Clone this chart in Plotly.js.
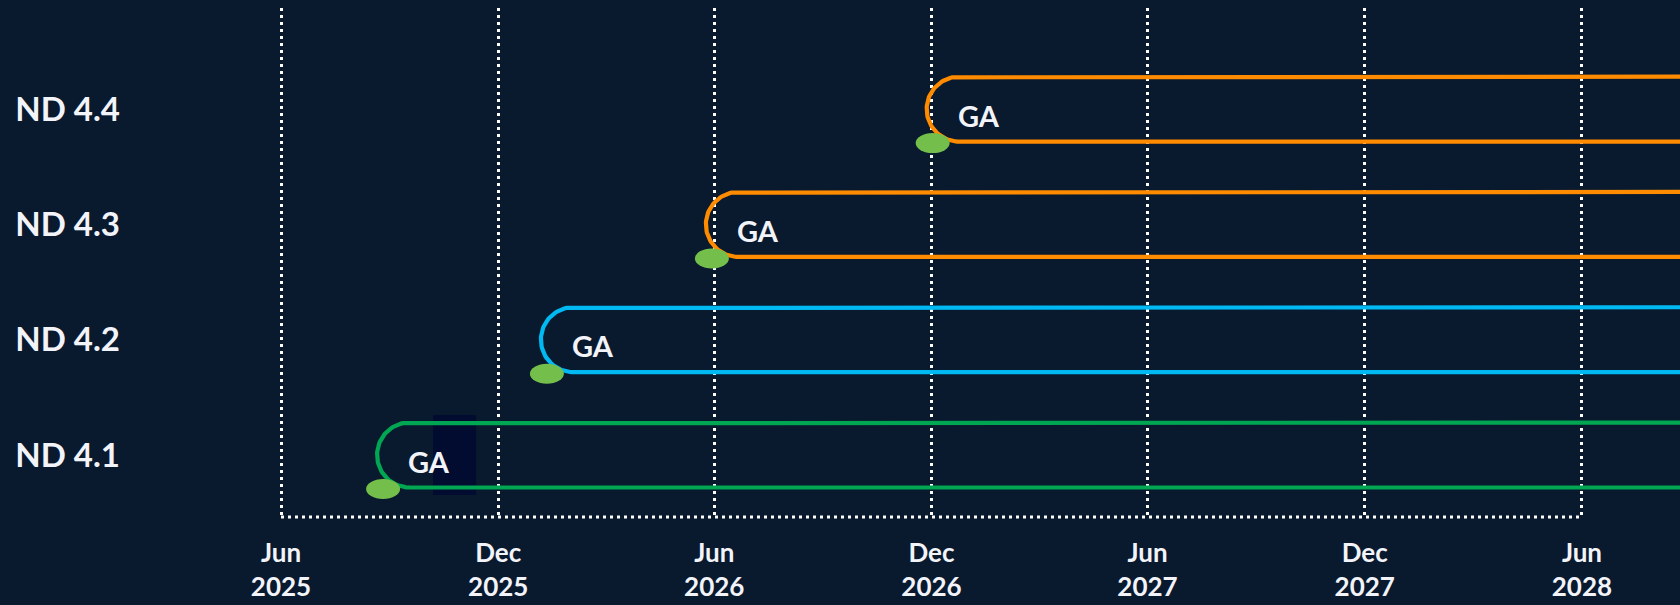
<!DOCTYPE html>
<html>
<head>
<meta charset="utf-8">
<script src="https://cdn.plot.ly/plotly-3.0.1.min.js"></script>
<style>
  html, body { margin: 0; padding: 0; background: #09192e; }
  #chart { width: 1680px; height: 605px; }
</style>
</head>
<body>
<div id="chart"></div>
<script>
// ---- data ----
const categories = ['ND 4.1', 'ND 4.2', 'ND 4.3', 'ND 4.4'];
const gaDates = ['2025-08-26', '2026-01-11', '2026-05-30', '2026-12-02'];
const gaLabels = ['GA', 'GA', 'GA', 'GA'];
const tickDates = ['2025-06-01', '2025-12-01', '2026-06-01', '2026-12-01', '2027-06-01', '2027-12-01', '2028-06-01'];
const tickLabels = ['Jun<br>2025', 'Dec<br>2025', 'Jun<br>2026', 'Dec<br>2026', 'Jun<br>2027', 'Dec<br>2027', 'Jun<br>2028'];

// ---- style ----
const lineColors = ['#00a651', '#00b9f2', '#ff8c00', '#ff8c00'];
const bg = '#09192e';
const textColor = '#f2f4fa';
const font = 'Lato, "Open Sans", sans-serif';

// ---- layout geometry ----
const W = 1680, Hgt = 605;
const M = { l: 130, r: 0, t: 8, b: 86 };
const plotW = W - M.l - M.r, plotH = Hgt - M.t - M.b;
const DAY = 86400000;
const origin = Date.UTC(2025, 5, 1);
const pxPerDay = 1.187, originPx = 281;
const xStart = origin - (originPx - M.l) / pxPerDay * DAY;
const xEnd = origin + (W - M.r - originPx) / pxPerDay * DAY;
const yRange = [-0.555, 3.877];
const pxPerMs = plotW / (xEnd - xStart);
const pxPerY = plotH / (yRange[1] - yRange[0]);
const iso = ms => new Date(ms).toISOString().replace('T', ' ').replace('Z', '');

const pillHalf = 32.5;     // px
const capOffset = 26.5;    // px from GA date to centre of rounded cap

const traces = [];
categories.forEach((cat, i) => {
  const g = Date.parse(gaDates[i] + 'T00:00:00Z');
  const cx = g + capOffset / pxPerMs;
  const far = xEnd + 60 * DAY;
  const ry = pillHalf / pxPerY;
  const xs = [iso(far)], ys = [i + ry];
  for (let a = 90; a <= 270; a += 3) {
    const rad = a * Math.PI / 180;
    xs.push(iso(cx + pillHalf * Math.cos(rad) / pxPerMs));
    ys.push(i + ry * Math.sin(rad));
  }
  xs.push(iso(far)); ys.push(i - ry);
  traces.push({
    type: 'scatter', mode: 'lines', x: xs, y: ys,
    line: { color: lineColors[i], width: 4.2 },
    hoverinfo: 'skip', showlegend: false
  });
});

const shapes = [];
// dark patch behind first GA label
shapes.push({
  type: 'rect', layer: 'between', xref: 'x', yref: 'y',
  xsizemode: 'pixel', ysizemode: 'pixel', xanchor: gaDates[0], yanchor: 0,
  x0: 50, x1: 93, y0: -40, y1: 40,
  fillcolor: '#010c30', line: { width: 0 }
});
// bottom dotted baseline
shapes.push({
  type: 'line', layer: 'above', xref: 'x', yref: 'paper',
  x0: tickDates[0], x1: tickDates[tickDates.length - 1], y0: 0.004, y1: 0.004,
  line: { color: '#ffffff', width: 3, dash: '3px,4px' }
});
// GA milestone ellipses
gaDates.forEach((d, i) => {
  shapes.push({
    type: 'circle', layer: 'above', xref: 'x', yref: 'y',
    xsizemode: 'pixel', ysizemode: 'pixel', xanchor: d, yanchor: i,
    x0: -17, x1: 17, y0: -44, y1: -24,
    fillcolor: '#74bf4b', line: { width: 0 }
  });
});

const annotations = gaDates.map((d, i) => ({
  x: d, y: i, xref: 'x', yref: 'y', text: gaLabels[i], showarrow: false,
  xanchor: 'center', yanchor: 'middle', xshift: 46, yshift: -6,
  font: { family: font, size: 29, color: textColor, weight: 700 }
}));

const layout = {
  width: W, height: Hgt,
  margin: M,
  paper_bgcolor: bg, plot_bgcolor: bg,
  showlegend: false,
  xaxis: {
    type: 'date', range: [iso(xStart), iso(xEnd)],
    tickmode: 'array', tickvals: tickDates, ticktext: tickLabels,
    showgrid: true, gridcolor: '#ffffff', gridwidth: 3, griddash: '3px,4px',
    zeroline: false, showline: false, ticks: '', ticklabelstandoff: 16,
    tickfont: { family: font, size: 26, color: textColor, weight: 700 },
    fixedrange: true
  },
  yaxis: {
    type: 'linear', range: yRange,
    tickmode: 'array', tickvals: categories.map((c, i) => i), ticktext: categories,
    showgrid: false, zeroline: false, showline: false, ticks: '', ticklabelstandoff: 9,
    tickfont: { family: font, size: 33, color: textColor, weight: 700 },
    fixedrange: true
  },
  shapes: shapes,
  annotations: annotations
};

Plotly.newPlot('chart', traces, layout, { displayModeBar: false, staticPlot: true });
</script>
</body>
</html>
